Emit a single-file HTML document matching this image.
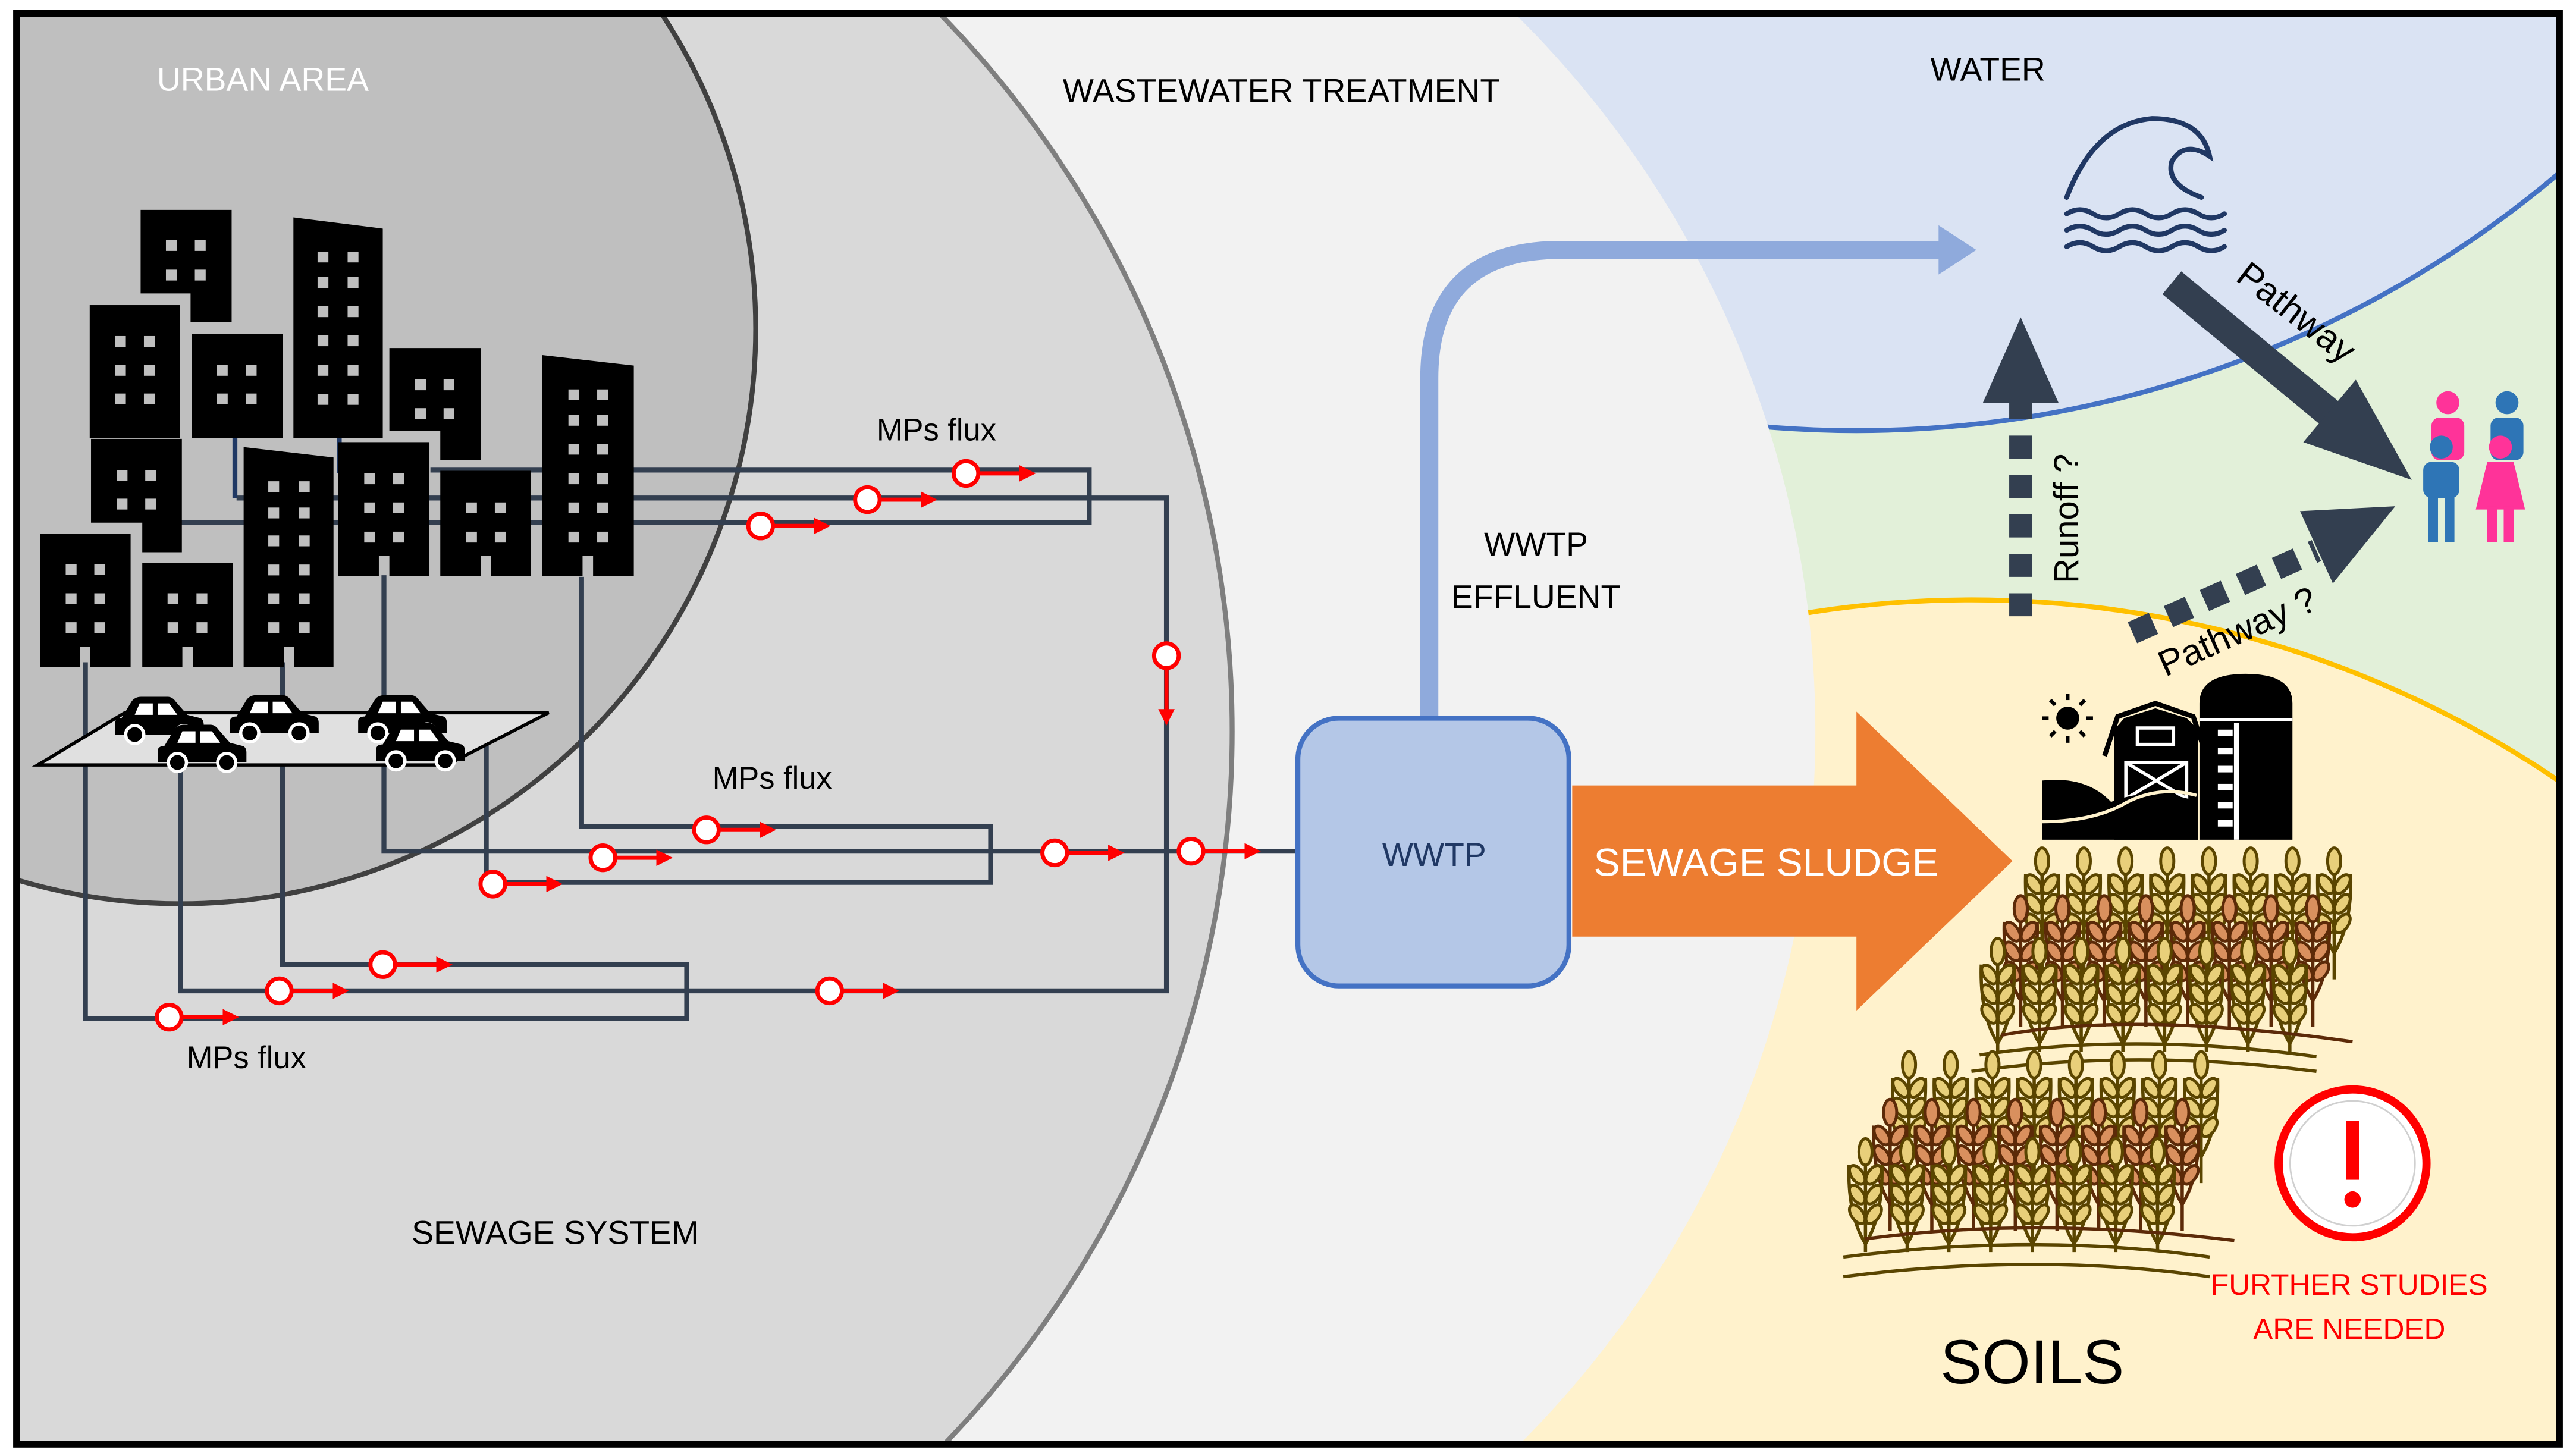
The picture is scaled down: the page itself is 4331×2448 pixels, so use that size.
<!DOCTYPE html>
<html><head><meta charset="utf-8"><style>
html,body{margin:0;padding:0;background:#fff;width:4331px;height:2448px;overflow:hidden;}
svg{display:block;}
text{font-family:"Liberation Sans",sans-serif;}
</style></head><body>
<svg width="4331" height="2448" viewBox="0 0 1568 886" xmlns="http://www.w3.org/2000/svg">
<defs>
<clipPath id="fr"><rect x="10" y="8" width="1548" height="871"/></clipPath>
<marker id="ah" markerWidth="4" markerHeight="4" refX="3" refY="2" orient="auto" markerUnits="strokeWidth"><path d="M0,0 L4,2 L0,4 z" fill="#ff0000"/></marker>
<g id="stO">
<line x1="0" y1="10" x2="0" y2="80" stroke="#5a4500" stroke-width="2"/>
<path d="M-10,16 Q-11,46 0,64 Q11,46 10,16" fill="none" stroke="#5a4500" stroke-width="2"/>
<ellipse cx="0" cy="8" rx="4" ry="8" fill="#e8cf7a" stroke="#5a4500" stroke-width="1.8"/>
<ellipse cx="-5" cy="22" rx="3.6" ry="6.5" transform="rotate(-35 -5 22)" fill="#e8cf7a" stroke="#5a4500" stroke-width="1.8"/>
<ellipse cx="5" cy="22" rx="3.6" ry="6.5" transform="rotate(35 5 22)" fill="#e8cf7a" stroke="#5a4500" stroke-width="1.8"/>
<ellipse cx="-5" cy="34" rx="3.6" ry="6.5" transform="rotate(-35 -5 34)" fill="#e8cf7a" stroke="#5a4500" stroke-width="1.8"/>
<ellipse cx="5" cy="34" rx="3.6" ry="6.5" transform="rotate(35 5 34)" fill="#e8cf7a" stroke="#5a4500" stroke-width="1.8"/>
<ellipse cx="-5" cy="46" rx="3.6" ry="6.5" transform="rotate(-35 -5 46)" fill="#e8cf7a" stroke="#5a4500" stroke-width="1.8"/>
<ellipse cx="5" cy="46" rx="3.6" ry="6.5" transform="rotate(35 5 46)" fill="#e8cf7a" stroke="#5a4500" stroke-width="1.8"/>
</g>
<g id="stB">
<line x1="0" y1="10" x2="0" y2="80" stroke="#5c2a08" stroke-width="2"/>
<path d="M-10,16 Q-11,46 0,64 Q11,46 10,16" fill="none" stroke="#5c2a08" stroke-width="2"/>
<ellipse cx="0" cy="8" rx="4" ry="8" fill="#d9905e" stroke="#5c2a08" stroke-width="1.8"/>
<ellipse cx="-5" cy="22" rx="3.6" ry="6.5" transform="rotate(-35 -5 22)" fill="#d9905e" stroke="#5c2a08" stroke-width="1.8"/>
<ellipse cx="5" cy="22" rx="3.6" ry="6.5" transform="rotate(35 5 22)" fill="#d9905e" stroke="#5c2a08" stroke-width="1.8"/>
<ellipse cx="-5" cy="34" rx="3.6" ry="6.5" transform="rotate(-35 -5 34)" fill="#d9905e" stroke="#5c2a08" stroke-width="1.8"/>
<ellipse cx="5" cy="34" rx="3.6" ry="6.5" transform="rotate(35 5 34)" fill="#d9905e" stroke="#5c2a08" stroke-width="1.8"/>
<ellipse cx="-5" cy="46" rx="3.6" ry="6.5" transform="rotate(-35 -5 46)" fill="#d9905e" stroke="#5c2a08" stroke-width="1.8"/>
<ellipse cx="5" cy="46" rx="3.6" ry="6.5" transform="rotate(35 5 46)" fill="#d9905e" stroke="#5c2a08" stroke-width="1.8"/>
</g>
<g id="car">
<path d="M4,14 L10,4 Q12,1 16,1 L32,1 Q35,1 37,4 L44,12 L52,14 Q54,15 54,18 L54,24 L0,24 L0,17 Q0,14 4,14 Z" fill="#000"/>
<path d="M12,12 L15,5 L23,5 L23,12 Z M26,5 L33,5 L38,12 L26,12 Z" fill="#fff"/>
<circle cx="12" cy="24" r="5.5" fill="#000" stroke="#fff" stroke-width="2"/>
<circle cx="42" cy="24" r="5.5" fill="#000" stroke="#fff" stroke-width="2"/>
</g>
<g id="mk"><line x1="7" y1="0" x2="40" y2="0" stroke="#ff0000" stroke-width="2.5" marker-end="url(#ah)"/><circle cx="0" cy="0" r="7.5" fill="#fff" stroke="#ff0000" stroke-width="2.5"/></g>
</defs>

<g clip-path="url(#fr)">
<rect x="0" y="0" width="1568" height="886" fill="#e2f0d9"/>
<circle cx="1200" cy="1000" r="635" fill="#fff2cc" stroke="#ffc000" stroke-width="3"/>
<circle cx="1130" cy="-400" r="662" fill="#dae3f3" stroke="#4472c4" stroke-width="3"/>
<circle cx="492" cy="445" r="613" fill="#f2f2f2"/>
<circle cx="125" cy="445" r="625" fill="#d9d9d9" stroke="#7f7f7f" stroke-width="3"/>
<circle cx="110" cy="200" r="350" fill="#bfbfbf" stroke="#404040" stroke-width="3"/>
</g>

<g fill="none" stroke="#333f50" stroke-width="3">
<polyline points="262,286 663,286 663,318 107,318"/>
<polyline points="144,303 710,303 710,603 110,603 110,464"/>
<line x1="143" y1="265" x2="143" y2="303" stroke="#1f3864"/>
<line x1="206.5" y1="260" x2="206.5" y2="288" stroke="#1f3864"/>
<polyline points="354,351 354,503 603,503 603,537 296,537 296,453"/>
<polyline points="233.7,350 233.7,518 790,518"/>
<polyline points="172,403 172,587 418,587 418,620 52,620 52,403"/>
</g>

<polygon points="23,465.5 272,465.5 334,433.7 76,433.7" fill="#e0e0e0" stroke="#000" stroke-width="2"/>

<g fill="#000">
<polygon points="85.6,127.6 141,127.6 141,196 116,196 116,178.5 85.6,178.5"/>
<polygon points="178.6,132.2 233,139 233,266.6 178.6,266.6"/>
<rect x="54.6" y="185.6" width="55" height="81"/>
<rect x="116.6" y="203" width="55.4" height="63.6"/>
<polygon points="237,211.7 292.6,211.7 292.6,280 268,280 268,262.3 237,262.3"/>
<polygon points="55.4,267 110.7,267 110.7,336 86.6,336 86.6,318 55.4,318"/>
<polygon points="24.4,324.8 79.5,324.8 79.5,406 55,406 55,393.6 48.8,393.6 48.8,406 24.4,406"/>
<polygon points="86.6,342.5 141.7,342.5 141.7,406 117.4,406 117.4,393.6 111,393.6 111,406 86.6,406"/>
<polygon points="148.3,272 203,278.3 203,406 179,406 179,393.6 172.7,393.6 172.7,406 148.3,406"/>
<polygon points="206,269 261.4,269 261.4,350.7 237,350.7 237,338 230.6,338 230.6,350.7 206,350.7"/>
<polygon points="268,286.4 323,286.4 323,350.7 299,350.7 299,338 292.6,338 292.6,350.7 268,350.7"/>
<polygon points="330,216 385.8,222.4 385.8,350.7 361,350.7 361,338 354.6,338 354.6,350.7 330,350.7"/>
</g>
<g fill="#bfbfbf">
<rect x="101" y="146" width="6.6" height="6.6"/><rect x="118.6" y="146" width="6.6" height="6.6"/><rect x="101" y="164" width="6.6" height="6.6"/><rect x="118.6" y="164" width="6.6" height="6.6"/>
<rect x="193.3" y="153" width="6.6" height="6.6"/><rect x="211.6" y="153" width="6.6" height="6.6"/><rect x="193.3" y="168.5" width="6.6" height="6.6"/><rect x="211.6" y="168.5" width="6.6" height="6.6"/><rect x="193.3" y="186.3" width="6.6" height="6.6"/><rect x="211.6" y="186.3" width="6.6" height="6.6"/><rect x="193.3" y="204" width="6.6" height="6.6"/><rect x="211.6" y="204" width="6.6" height="6.6"/><rect x="193.3" y="222" width="6.6" height="6.6"/><rect x="211.6" y="222" width="6.6" height="6.6"/><rect x="193.3" y="239.7" width="6.6" height="6.6"/><rect x="211.6" y="239.7" width="6.6" height="6.6"/>
<rect x="70" y="204.4" width="6.6" height="6.6"/><rect x="87.6" y="204.4" width="6.6" height="6.6"/><rect x="70" y="222" width="6.6" height="6.6"/><rect x="87.6" y="222" width="6.6" height="6.6"/><rect x="70" y="239.4" width="6.6" height="6.6"/><rect x="87.6" y="239.4" width="6.6" height="6.6"/>
<rect x="132" y="222" width="6.6" height="6.6"/><rect x="149.6" y="222" width="6.6" height="6.6"/><rect x="132" y="239.4" width="6.6" height="6.6"/><rect x="149.6" y="239.4" width="6.6" height="6.6"/>
<rect x="252.7" y="230.8" width="6.6" height="6.6"/><rect x="270" y="230.8" width="6.6" height="6.6"/><rect x="252.7" y="248.3" width="6.6" height="6.6"/><rect x="270" y="248.3" width="6.6" height="6.6"/>
<rect x="71" y="286" width="6.6" height="6.6"/><rect x="88.4" y="286" width="6.6" height="6.6"/><rect x="71" y="303.4" width="6.6" height="6.6"/><rect x="88.4" y="303.4" width="6.6" height="6.6"/>
<rect x="40" y="343.3" width="6.6" height="6.6"/><rect x="57.4" y="343.3" width="6.6" height="6.6"/><rect x="40" y="361" width="6.6" height="6.6"/><rect x="57.4" y="361" width="6.6" height="6.6"/><rect x="40" y="378.6" width="6.6" height="6.6"/><rect x="57.4" y="378.6" width="6.6" height="6.6"/>
<rect x="102" y="361" width="6.6" height="6.6"/><rect x="119.6" y="361" width="6.6" height="6.6"/><rect x="102" y="378.6" width="6.6" height="6.6"/><rect x="119.6" y="378.6" width="6.6" height="6.6"/>
<rect x="163.3" y="292.8" width="6.6" height="6.6"/><rect x="181.9" y="292.8" width="6.6" height="6.6"/><rect x="163.3" y="308.8" width="6.6" height="6.6"/><rect x="181.9" y="308.8" width="6.6" height="6.6"/><rect x="163.3" y="325.8" width="6.6" height="6.6"/><rect x="181.9" y="325.8" width="6.6" height="6.6"/><rect x="163.3" y="343.5" width="6.6" height="6.6"/><rect x="181.9" y="343.5" width="6.6" height="6.6"/><rect x="163.3" y="361" width="6.6" height="6.6"/><rect x="181.9" y="361" width="6.6" height="6.6"/><rect x="163.3" y="378.6" width="6.6" height="6.6"/><rect x="181.9" y="378.6" width="6.6" height="6.6"/>
<rect x="221.7" y="288" width="6.6" height="6.6"/><rect x="239.3" y="288" width="6.6" height="6.6"/><rect x="221.7" y="305.7" width="6.6" height="6.6"/><rect x="239.3" y="305.7" width="6.6" height="6.6"/><rect x="221.7" y="323.5" width="6.6" height="6.6"/><rect x="239.3" y="323.5" width="6.6" height="6.6"/>
<rect x="283.7" y="305.7" width="6.6" height="6.6"/><rect x="301.2" y="305.7" width="6.6" height="6.6"/><rect x="283.7" y="323.5" width="6.6" height="6.6"/><rect x="301.2" y="323.5" width="6.6" height="6.6"/>
<rect x="346" y="236.9" width="6.6" height="6.6"/><rect x="363.5" y="236.9" width="6.6" height="6.6"/><rect x="346" y="252.4" width="6.6" height="6.6"/><rect x="363.5" y="252.4" width="6.6" height="6.6"/><rect x="346" y="270" width="6.6" height="6.6"/><rect x="363.5" y="270" width="6.6" height="6.6"/><rect x="346" y="288" width="6.6" height="6.6"/><rect x="363.5" y="288" width="6.6" height="6.6"/><rect x="346" y="305.7" width="6.6" height="6.6"/><rect x="363.5" y="305.7" width="6.6" height="6.6"/><rect x="346" y="323.5" width="6.6" height="6.6"/><rect x="363.5" y="323.5" width="6.6" height="6.6"/>
</g>

<use href="#car" x="70" y="423"/>
<use href="#car" x="140" y="422"/>
<use href="#car" x="218" y="422"/>
<use href="#car" x="96" y="440"/>
<use href="#car" x="229" y="439"/>

<use href="#mk" x="588" y="288"/>
<use href="#mk" x="528" y="304"/>
<use href="#mk" x="463" y="320"/>
<use href="#mk" x="430" y="505"/>
<use href="#mk" x="367" y="522"/>
<use href="#mk" x="300" y="538"/>
<use href="#mk" x="642" y="519"/>
<use href="#mk" x="725" y="518"/>
<use href="#mk" x="233" y="587"/>
<use href="#mk" x="170" y="603"/>
<use href="#mk" x="103" y="619"/>
<use href="#mk" x="505" y="603"/>
<use href="#mk" transform="translate(710,399) rotate(90)"/>

<g font-size="19" fill="#000">
<text x="570" y="268" text-anchor="middle">MPs flux</text>
<text x="470" y="480" text-anchor="middle">MPs flux</text>
<text x="150" y="650" text-anchor="middle">MPs flux</text>
<text x="338" y="757" text-anchor="middle" font-size="20">SEWAGE SYSTEM</text>
<text x="780" y="62" text-anchor="middle" font-size="20">WASTEWATER TREATMENT</text>
<text x="1210" y="49" text-anchor="middle" font-size="20">WATER</text>
<text x="935" y="338" text-anchor="middle" font-size="20">WWTP</text>
<text x="935" y="370" text-anchor="middle" font-size="20">EFFLUENT</text>
</g>
<text x="160" y="55" text-anchor="middle" font-size="20" fill="#fff">URBAN AREA</text>

<path d="M870 440 V230 Q870 152 950 152 H1182" fill="none" stroke="#8faadc" stroke-width="11"/>
<polygon points="1180,137 1180,167 1203,152" fill="#8faadc"/>

<rect x="790" y="437" width="165" height="163" rx="25" fill="#b4c7e7" stroke="#4472c4" stroke-width="3"/>
<text x="873" y="527" text-anchor="middle" font-size="20" fill="#203864">WWTP</text>

<polygon points="957,478 1130,478 1130,433 1225,524 1130,615 1130,570 957,570" fill="#ed7d31"/>
<text x="1075" y="533" text-anchor="middle" font-size="24" fill="#fff">SEWAGE SLUDGE</text>

<g fill="none" stroke="#203864" stroke-width="3" stroke-linecap="round">
<path d="M1258,120 Q1275,75 1310,72 Q1340,72 1345,95 Q1330,85 1322,98 Q1318,112 1340,120"/>
<path d="M1258,130 q8,-5 16,0 t16,0 t16,0 t16,0 t16,0 t16,0"/>
<path d="M1258,140 q8,-5 16,0 t16,0 t16,0 t16,0 t16,0 t16,0"/>
<path d="M1258,150 q8,-5 16,0 t16,0 t16,0 t16,0 t16,0 t16,0"/>
</g>

<line x1="1230" y1="375" x2="1230" y2="245" stroke="#333f50" stroke-width="14" stroke-dasharray="14 10"/>
<polygon points="1207,245 1253,245 1230,193" fill="#333f50"/>
<text transform="translate(1265,355) rotate(-90)" font-size="21" fill="#000">Runoff ?</text>

<line x1="1322" y1="172" x2="1420" y2="253" stroke="#333f50" stroke-width="18"/>
<polygon points="1402,269 1434,231 1468,292" fill="#333f50"/>
<text transform="translate(1360,170) rotate(38)" font-size="22" fill="#000">Pathway</text>

<line x1="1298" y1="385" x2="1410" y2="335" stroke="#333f50" stroke-width="14" stroke-dasharray="14 10"/>
<polygon points="1420,355 1400,311 1458,308" fill="#333f50"/>
<text transform="translate(1318,412) rotate(-24)" font-size="22" fill="#000">Pathway ?</text>

<g>
<circle cx="1490" cy="245" r="7" fill="#ff3399"/>
<rect x="1480" y="254" width="20" height="26" rx="5" fill="#ff3399"/>
<circle cx="1526" cy="245" r="7" fill="#2e75b6"/>
<rect x="1516" y="254" width="20" height="26" rx="5" fill="#2e75b6"/>
<circle cx="1486" cy="272" r="7" fill="#2e75b6"/>
<rect x="1475" y="281" width="22" height="22" rx="5" fill="#2e75b6"/>
<rect x="1478" y="300" width="6" height="30" fill="#2e75b6"/><rect x="1488" y="300" width="6" height="30" fill="#2e75b6"/>
<circle cx="1522" cy="272" r="7" fill="#ff3399"/>
<polygon points="1514,281 1530,281 1537,310 1507,310" fill="#ff3399"/>
<rect x="1514" y="308" width="6" height="22" fill="#ff3399"/><rect x="1524" y="308" width="6" height="22" fill="#ff3399"/>
</g>

<g>
<circle cx="1258.6" cy="437" r="7" fill="#000"/>
<g stroke="#000" stroke-width="2.2">
<line x1="1258.6" y1="422" x2="1258.6" y2="426"/><line x1="1258.6" y1="448" x2="1258.6" y2="452"/>
<line x1="1243" y1="437" x2="1247" y2="437"/><line x1="1270" y1="437" x2="1274" y2="437"/>
<line x1="1248" y1="426" x2="1251" y2="429"/><line x1="1266" y1="445" x2="1269" y2="448"/>
<line x1="1248" y1="448" x2="1251" y2="445"/><line x1="1266" y1="429" x2="1269" y2="426"/>
</g>
<path d="M1281,460 L1289,436 L1312,428 L1335,436 L1343,460" fill="none" stroke="#000" stroke-width="3"/>
<polygon points="1287,511 1287,444 1293,437 1312,431 1331,437 1338,444 1338,511" fill="#000"/>
<rect x="1301" y="443" width="22" height="10" fill="none" stroke="#fff" stroke-width="2"/>
<rect x="1294" y="464" width="37" height="22" fill="none" stroke="#fff" stroke-width="2"/>
<path d="M1294,464 L1331,486 M1331,464 L1294,486" stroke="#fff" stroke-width="2"/>
<path d="M1338.8,511 V428 Q1338.8,410 1367,410 Q1395.4,410 1395.4,428 V511 Z" fill="#000"/>
<line x1="1338.8" y1="438" x2="1395.4" y2="438" stroke="#fff" stroke-width="2"/>
<g fill="#fff"><rect x="1350" y="444" width="9" height="4"/><rect x="1350" y="455" width="9" height="4"/><rect x="1350" y="466" width="9" height="4"/><rect x="1350" y="477" width="9" height="4"/><rect x="1350" y="488" width="9" height="4"/><rect x="1350" y="499" width="9" height="4"/></g>
<rect x="1359.8" y="440" width="3" height="71" fill="#fff"/>
<path d="M1243,511 V475 Q1270,472 1285,488 Q1310,478 1338,488 V511 Z" fill="#000"/>
<path d="M1243,500 Q1275,500 1295,488 Q1315,478 1337,484" fill="none" stroke="#fff2cc" stroke-width="2"/>
</g>

<g>
<use href="#stO" x="1243" y="516"/><use href="#stO" x="1268.4" y="516"/><use href="#stO" x="1293.8" y="516"/><use href="#stO" x="1319.2" y="516"/><use href="#stO" x="1344.6" y="516"/><use href="#stO" x="1370" y="516"/><use href="#stO" x="1395.4" y="516"/><use href="#stO" x="1420.8" y="516"/>
<use href="#stB" x="1230" y="545"/><use href="#stB" x="1255.4" y="545"/><use href="#stB" x="1280.8" y="545"/><use href="#stB" x="1306.2" y="545"/><use href="#stB" x="1331.6" y="545"/><use href="#stB" x="1357" y="545"/><use href="#stB" x="1382.4" y="545"/><use href="#stB" x="1407.8" y="545"/>
<use href="#stO" x="1216" y="571"/><use href="#stO" x="1241.4" y="571"/><use href="#stO" x="1266.8" y="571"/><use href="#stO" x="1292.2" y="571"/><use href="#stO" x="1317.6" y="571"/><use href="#stO" x="1343" y="571"/><use href="#stO" x="1368.4" y="571"/><use href="#stO" x="1393.8" y="571"/>
</g>
<rect x="1195" y="640" width="250" height="20" fill="#fff2cc"/>
<g fill="none" stroke-width="2">
<path d="M1218,630 Q1300,615 1432,634" stroke="#5c2a08"/>
<path d="M1205,642 Q1300,628 1410,643" stroke="#5a4500"/>
<path d="M1200,652 Q1300,638 1410,652" stroke="#5a4500"/>
</g>
<g>
<use href="#stO" x="1162" y="640"/><use href="#stO" x="1187.4" y="640"/><use href="#stO" x="1212.8" y="640"/><use href="#stO" x="1238.2" y="640"/><use href="#stO" x="1263.6" y="640"/><use href="#stO" x="1289" y="640"/><use href="#stO" x="1314.4" y="640"/><use href="#stO" x="1339.8" y="640"/>
<use href="#stB" x="1150.5" y="669"/><use href="#stB" x="1175.9" y="669"/><use href="#stB" x="1201.3" y="669"/><use href="#stB" x="1226.7" y="669"/><use href="#stB" x="1252.1" y="669"/><use href="#stB" x="1277.5" y="669"/><use href="#stB" x="1302.9" y="669"/><use href="#stB" x="1328.3" y="669"/>
<use href="#stO" x="1135.5" y="693"/><use href="#stO" x="1160.9" y="693"/><use href="#stO" x="1186.3" y="693"/><use href="#stO" x="1211.7" y="693"/><use href="#stO" x="1237.1" y="693"/><use href="#stO" x="1262.5" y="693"/><use href="#stO" x="1287.9" y="693"/><use href="#stO" x="1313.3" y="693"/>
</g>
<rect x="1115" y="762" width="250" height="25" fill="#fff2cc"/>
<g fill="none" stroke-width="2">
<path d="M1135,754 Q1240,740 1360,755" stroke="#5c2a08"/>
<path d="M1122,765 Q1240,750 1345,765" stroke="#5a4500"/>
<path d="M1122,777 Q1240,762 1345,777" stroke="#5a4500"/>
</g>

<circle cx="1432" cy="708" r="45" fill="#fff" stroke="#ff0000" stroke-width="5"/>
<circle cx="1432" cy="708" r="38" fill="none" stroke="#d0d0d0" stroke-width="1"/>
<rect x="1428" y="682" width="8" height="36" fill="#ff0000"/>
<circle cx="1432" cy="730" r="5" fill="#ff0000"/>
<text x="1430" y="788" text-anchor="middle" font-size="18" fill="#ff0000">FURTHER STUDIES</text>
<text x="1430" y="815" text-anchor="middle" font-size="18" fill="#ff0000">ARE NEEDED</text>
<text x="1237" y="842" text-anchor="middle" font-size="38" fill="#000">SOILS</text>

<rect x="10" y="8" width="1548" height="871" fill="none" stroke="#000" stroke-width="4"/>
</svg>
</body></html>
